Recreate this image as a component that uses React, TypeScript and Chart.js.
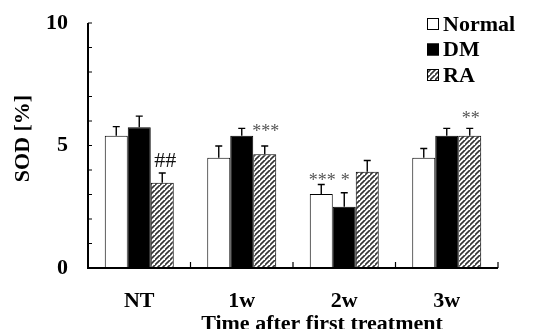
import React, { useEffect, useRef } from "react";
import { Chart, registerables } from "chart.js";

Chart.register(...registerables);

const categories = ["NT", "1w", "2w", "3w"];
const seriesLabels = ["Normal", "DM", "RA"];
const normalValues = [5.4, 4.5, 3.02, 4.5];
const dmValues = [5.74, 5.4, 2.5, 5.4];
const raValues = [3.48, 4.64, 3.93, 5.4];
const normalErrors = [0.37, 0.48, 0.39, 0.38];
const dmErrors = [0.46, 0.3, 0.57, 0.3];
const raErrors = [0.4, 0.34, 0.46, 0.3];
// significance marks per dataset per category, and the value level (centre) where each is written
const normalMarks = ["", "", "***", ""];
const dmMarks = ["", "", "*", ""];
const raMarks = ["##", "***", "", "**"];
const normalMarkLevels = [0, 0, 3.71, 0];
const dmMarkLevels = [0, 0, 3.71, 0];
const raMarkLevels = [4.41, 5.71, 0, 6.24];
const yTickLabels = [0, 5, 10];
const xTitle = "Time after first treatment";
const yTitle = "SOD [%]";

const SERIF = "'Liberation Serif', 'Times New Roman', serif";

function makeHatch(): CanvasPattern | string {
  const c = document.createElement("canvas");
  const s = 5;
  c.width = s;
  c.height = s;
  const g = c.getContext("2d");
  if (!g) return "#888";
  g.fillStyle = "#fff";
  g.fillRect(0, 0, s, s);
  g.strokeStyle = "#333";
  g.lineWidth = 1.6;
  g.beginPath();
  g.moveTo(-1, s + 1);
  g.lineTo(s + 1, -1);
  g.moveTo(-1 - s, s + 1);
  g.lineTo(1, -1);
  g.moveTo(s - 1, 2 * s + 1);
  g.lineTo(2 * s + 1, s - 1);
  g.stroke();
  const p = g.createPattern(c, "repeat");
  return p || "#888";
}

export default function App() {
  const ref = useRef<HTMLCanvasElement>(null);
  useEffect(() => {
    document.body.style.margin = "0";
    const canvas = ref.current;
    if (!canvas) return;
    const hatch = makeHatch();
    const errors = [normalErrors, dmErrors, raErrors];
    const marks = [normalMarks, dmMarks, raMarks];
    const markLevels = [normalMarkLevels, dmMarkLevels, raMarkLevels];

    const extras = {
      id: "extras",
      afterDatasetsDraw(chart: any) {
        const ctx = chart.ctx;
        const area = chart.chartArea;
        const xs = chart.scales.x;
        const ys = chart.scales.y;
        ctx.save();
        // error bars + marks
        chart.data.datasets.forEach((ds: any, di: number) => {
          const meta = chart.getDatasetMeta(di);
          meta.data.forEach((bar: any, i: number) => {
            const v = ds.data[i];
            const e = errors[di][i];
            const yTop = ys.getPixelForValue(v + e);
            const yBar = ys.getPixelForValue(v);
            ctx.strokeStyle = "#000";
            ctx.lineWidth = 1.4;
            ctx.beginPath();
            ctx.moveTo(bar.x, yBar);
            ctx.lineTo(bar.x, yTop);
            ctx.moveTo(bar.x - 3.5, yTop);
            ctx.lineTo(bar.x + 3.5, yTop);
            ctx.stroke();
            const m = marks[di][i];
            if (m) {
              const yc = ys.getPixelForValue(markLevels[di][i]);
              ctx.textAlign = "center";
              ctx.textBaseline = "alphabetic";
              if (m.startsWith("#")) {
                ctx.font = `22px ${SERIF}`;
                ctx.fillStyle = "#111";
                ctx.fillText(m, bar.x + 3, yc + 7);
              } else {
                ctx.font = `18px ${SERIF}`;
                ctx.fillStyle = "#555";
                ctx.fillText(m, bar.x + 1, yc + 8.6);
              }
            }
          });
        });
        // axes lines
        ctx.strokeStyle = "#000";
        ctx.lineWidth = 2;
        ctx.beginPath();
        ctx.moveTo(area.left, area.top);
        ctx.lineTo(area.left, area.bottom);
        ctx.lineTo(area.right, area.bottom);
        ctx.stroke();
        // y minor ticks inward
        ctx.lineWidth = 1.2;
        ctx.beginPath();
        for (let v = ys.min; v <= ys.max; v += 1) {
          const y = ys.getPixelForValue(v);
          ctx.moveTo(area.left, y);
          ctx.lineTo(area.left + 4, y);
        }
        // x category boundary ticks upward
        const cw = (area.right - area.left) / categories.length;
        for (let i = 0; i < categories.length; i++) {
          const x = xs.getPixelForValue(i) + cw / 2;
          ctx.moveTo(x, area.bottom);
          ctx.lineTo(x, area.bottom - 6);
        }
        ctx.stroke();
        // x title
        ctx.fillStyle = "#000";
        ctx.font = `bold 22px ${SERIF}`;
        ctx.textAlign = "center";
        ctx.textBaseline = "alphabetic";
        ctx.fillText(xTitle, (area.left + area.right) / 2 + 29, area.bottom + 62);
        // y title
        ctx.save();
        ctx.translate(area.left - 65, (area.top + area.bottom) / 2 - 7);
        ctx.rotate(-Math.PI / 2);
        ctx.textAlign = "center";
        ctx.textBaseline = "middle";
        ctx.fillText(yTitle, 0, 0);
        ctx.restore();
        // legend
        const fills = ["#fff", "#000", hatch];
        const lx = area.right - 71;
        seriesLabels.forEach((lab, i) => {
          const cy = area.top + 1 + i * 25.5;
          ctx.fillStyle = fills[i];
          ctx.fillRect(lx, cy - 6, 12, 12);
          ctx.strokeStyle = "#000";
          ctx.lineWidth = 1;
          ctx.strokeRect(lx + 0.5, cy - 5.5, 11, 11);
          ctx.fillStyle = "#000";
          ctx.font = `bold 22px ${SERIF}`;
          ctx.textAlign = "left";
          ctx.textBaseline = "middle";
          ctx.fillText(lab, lx + 16, cy + 1);
        });
        ctx.restore();
      },
    };

    const chart = new Chart(canvas, {
      type: "bar",
      data: {
        labels: categories,
        datasets: [
          { label: seriesLabels[0], data: normalValues, backgroundColor: "#fff", borderColor: "#000", borderWidth: 1 },
          { label: seriesLabels[1], data: dmValues, backgroundColor: "#000", borderColor: "#000", borderWidth: 1 },
          { label: seriesLabels[2], data: raValues, backgroundColor: hatch as any, borderColor: "#000", borderWidth: 1 },
        ],
      },
      options: {
        responsive: false,
        animation: false,
        layout: { padding: { top: 23, right: 47, left: 0, bottom: 0 } },
        plugins: { legend: { display: false }, tooltip: { enabled: false } },
        datasets: { bar: { barPercentage: 1, categoryPercentage: 0.673, borderSkipped: "bottom" } },
        scales: {
          x: {
            grid: { display: false, drawTicks: false, tickLength: 0 },
            border: { display: false },
            ticks: { color: "#000", font: { family: SERIF, size: 22, weight: "bold" }, padding: 20 },
            afterFit(scale: any) {
              scale.height = 61;
              scale.paddingLeft = 0;
              scale.paddingRight = 0;
            },
          },
          y: {
            min: 0,
            max: 10,
            grid: { display: false, drawTicks: false, tickLength: 0 },
            border: { display: false },
            ticks: {
              stepSize: 1,
              autoSkip: false,
              color: "#000",
              padding: 20,
              font: { family: SERIF, size: 22, weight: "bold" },
              callback: (v: any) => (yTickLabels.includes(Number(v)) ? String(v) : ""),
            },
            afterFit(scale: any) {
              scale.width = 88;
              scale.paddingTop = 0;
              scale.paddingBottom = 0;
            },
          },
        },
      },
      plugins: [extras],
    });
    return () => chart.destroy();
  }, []);
  return <canvas ref={ref} width={545} height={329} style={{ display: "block" }} />;
}
